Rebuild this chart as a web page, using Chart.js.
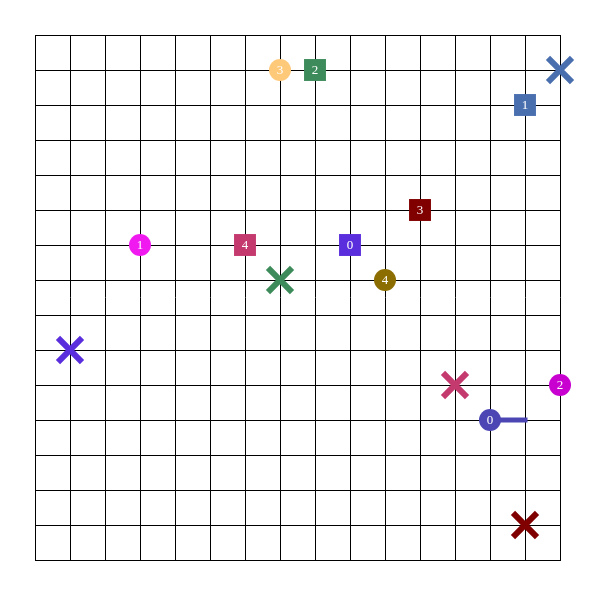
<!DOCTYPE html>
<html>
<head>
<meta charset="utf-8">
<script src="https://cdn.jsdelivr.net/npm/chart.js@4/dist/chart.umd.min.js"></script>
<style>
  html, body { margin: 0; padding: 0; background: #fff; }
  #wrap { width: 601px; height: 601px; }
</style>
</head>
<body>
<div id="wrap"><canvas id="board" width="601" height="601"></canvas></div>
<script>
// grid size (cells)
var gridSize = 15;

// agents (circles)
var agentLabels = ["0", "1", "2", "3", "4"];
var agentX = [13, 3, 15, 7, 10];
var agentY = [11, 6, 10, 1, 7];
var agentColors = ["#4b46b4", "#f01af0", "#c800d0", "#ffc97a", "#8c6e00"];

// targets (squares)
var targetLabels = ["0", "1", "2", "3", "4"];
var targetX = [9, 14, 8, 11, 6];
var targetY = [6, 2, 1, 5, 6];
var targetColors = ["#5a2edc", "#4a6faf", "#3d8b5a", "#800000", "#c43a6e"];

// goals (crosses)
var goalX = [1, 15, 7, 14, 12];
var goalY = [9, 1, 7, 14, 10];
var goalColors = ["#5a2edc", "#4a6faf", "#3d8b5a", "#800000", "#c43a6e"];

// path of agent 0
var pathX = [13, 14];
var pathY = [11, 11];

function toPoints(xs, ys) {
    var pts = [];
    for (var i = 0; i < xs.length; i++) {
        pts.push({ x: xs[i], y: ys[i] });
    }
    return pts;
}

// draw the number labels on circles and squares
var labelPlugin = {
    id: "labels",
    afterDatasetsDraw: function (chart) {
        var ctx = chart.ctx;
        ctx.save();
        ctx.fillStyle = "#fff";
        ctx.font = "13px 'Liberation Serif'";
        ctx.textAlign = "center";
        ctx.textBaseline = "middle";
        chart.data.datasets.forEach(function (ds, di) {
            if (!ds.texts) return;
            var meta = chart.getDatasetMeta(di);
            meta.data.forEach(function (pt, i) {
                ctx.fillText(ds.texts[i], pt.x, pt.y + 1);
            });
        });
        ctx.restore();
    },
};

var ctx = document.getElementById("board").getContext("2d");
var board = new Chart(ctx, {
    type: "scatter",
    data: {
        datasets: [
            {
                type: "line",
                data: toPoints(pathX, pathY),
                borderColor: agentColors[0],
                borderWidth: 5,
                borderCapStyle: "square",
                pointRadius: 0,
                clip: false,
                order: 4,
            },
            {
                data: toPoints(goalX, goalY),
                pointStyle: "crossRot",
                pointRadius: 17,
                borderWidth: 6,
                pointBorderColor: goalColors,
                pointBackgroundColor: goalColors,
                clip: false,
                order: 3,
            },
            {
                data: toPoints(targetX, targetY),
                texts: targetLabels,
                pointStyle: "rect",
                pointRadius: 15.5,
                borderWidth: 0,
                pointBorderColor: targetColors,
                pointBackgroundColor: targetColors,
                clip: false,
                order: 2,
            },
            {
                data: toPoints(agentX, agentY),
                texts: agentLabels,
                pointStyle: "circle",
                pointRadius: 11,
                borderWidth: 0,
                pointBorderColor: agentColors,
                pointBackgroundColor: agentColors,
                clip: false,
                order: 1,
            },
        ],
    },
    options: {
        responsive: false,
        animation: false,
        layout: { padding: { left: 35, top: 35, right: 41, bottom: 41 } },
        plugins: { legend: { display: false }, tooltip: { enabled: false } },
        scales: {
            x: {
                type: "linear",
                min: 0,
                max: gridSize,
                ticks: { display: false, stepSize: 1 },
                grid: { color: "#000", lineWidth: 1, drawTicks: false },
                border: { color: "#000", width: 1 },
            },
            y: {
                type: "linear",
                reverse: true,
                min: 0,
                max: gridSize,
                ticks: { display: false, stepSize: 1 },
                grid: { color: "#000", lineWidth: 1, drawTicks: false },
                border: { color: "#000", width: 1 },
            },
        },
    },
    plugins: [labelPlugin],
});
</script>
</body>
</html>
